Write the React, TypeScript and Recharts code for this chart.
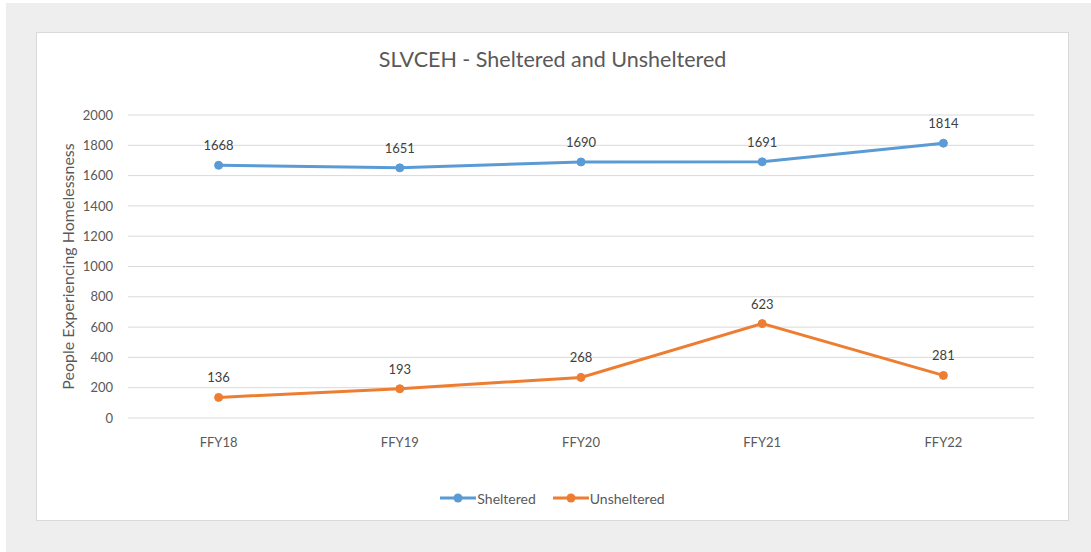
import * as React from "react";
import { LineChart, XAxis, YAxis, CartesianGrid, Line, Legend, LabelList } from "recharts";

const years = ["FFY18", "FFY19", "FFY20", "FFY21", "FFY22"];
const sheltered = [1668, 1651, 1690, 1691, 1814];
const unsheltered = [136, 193, 268, 623, 281];
const yTicks = [0, 200, 400, 600, 800, 1000, 1200, 1400, 1600, 1800, 2000];

const data = years.map((year, i) => ({ year, Sheltered: sheltered[i], Unsheltered: unsheltered[i] }));

const FONT = "Lato, 'Open Sans', sans-serif";
const BLUE = "#5b9bd5";
const ORANGE = "#ed7d31";

const renderLegend = (props: any): JSX.Element => (
    <div style={{ display: "flex", justifyContent: "center", alignItems: "center", height: 20, fontFamily: FONT, fontSize: 14, color: "#595959" }}>
        {(props.payload || []).map((p: any, i: number) => (
            <div key={p.value} style={{ display: "flex", alignItems: "center", marginLeft: i ? 17 : 0 }}>
                <svg width={36} height={12}>
                    <line x1={0} y1={6} x2={36} y2={6} stroke={p.color} strokeWidth={3} />
                    <circle cx={18} cy={6} r={4.5} fill={p.color} />
                </svg>
                <span style={{ marginLeft: 1 }}>{p.value}</span>
            </div>
        ))}
    </div>
);

export default function App(): JSX.Element {
    return (
        <div style={{ position: "absolute", left: 6, top: 3, width: 1085, height: 549, background: "#eeeeee" }}>
            <div style={{ position: "absolute", left: 30, top: 29, width: 1031, height: 487, background: "#fff", border: "1px solid #d9d9d9" }}>
                <div style={{ position: "absolute", left: 0, top: 13, width: 1031, textAlign: "center", fontFamily: FONT, fontSize: 21.5, color: "#595959" }}>
                    SLVCEH - Sheltered and Unsheltered
                </div>
                <LineChart width={1031} height={487} data={data} margin={{ top: 82, right: 34, bottom: 72, left: 31 }}>
                    <CartesianGrid vertical={false} stroke="#d9d9d9" />
                    <XAxis dataKey="year" axisLine={false} tickLine={false} tickMargin={14} height={30}
                        padding={{ left: 90.6, right: 90.6 }}
                        tick={{ fill: "#595959", fontSize: 13, fontFamily: FONT }} />
                    <YAxis domain={[0, 2000]} ticks={yTicks} axisLine={false} tickLine={false} tickMargin={9} width={60}
                        tick={{ fill: "#595959", fontSize: 13, fontFamily: FONT }}
                        label={{ value: "People Experiencing Homelessness", angle: -90, position: "insideLeft", offset: 0,
                            style: { textAnchor: "middle", fill: "#595959", fontSize: 16, fontFamily: FONT } }} />
                    <Legend layout="horizontal" verticalAlign="middle" align="center" content={renderLegend}
                        wrapperStyle={{ top: 455, left: 0, width: 1031, height: 20 }} />
                    <Line isAnimationActive={false} dataKey="Sheltered" stroke={BLUE} strokeWidth={3}
                        dot={{ r: 4, fill: BLUE, stroke: BLUE, strokeWidth: 1 }} activeDot={false}>
                        <LabelList dataKey="Sheltered" position="top" offset={15} fill="#404040" fontSize={13} fontFamily={FONT} />
                    </Line>
                    <Line isAnimationActive={false} dataKey="Unsheltered" stroke={ORANGE} strokeWidth={3}
                        dot={{ r: 4, fill: ORANGE, stroke: ORANGE, strokeWidth: 1 }} activeDot={false}>
                        <LabelList dataKey="Unsheltered" position="top" offset={15} fill="#404040" fontSize={13} fontFamily={FONT} />
                    </Line>
                </LineChart>
            </div>
        </div>
    );
}
